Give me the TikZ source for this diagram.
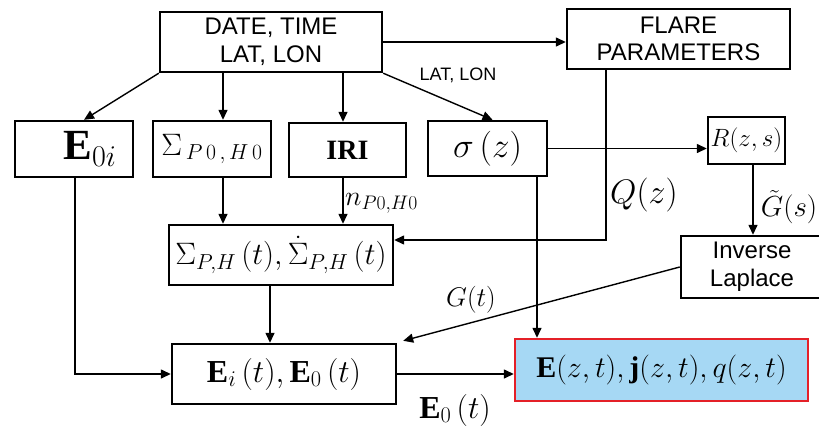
\RequirePackage{fix-cm}
\documentclass[tikz,border=0pt]{standalone}
\usepackage{amsmath}
\usepackage{xcolor}
\usepackage{fontspec}
\setmainfont{Liberation Serif}
\newfontfamily\arialfont{Liberation Sans}
\usetikzlibrary{positioning, arrows.meta}

\definecolor{outblue}{RGB}{166,216,244}
\definecolor{outred}{RGB}{228,32,40}

\newcommand{\fs}[2][1.15]{\fontsize{#2}{#1\dimexpr#2pt\relax}\selectfont}

\tikzset{
    block/.style 2 args={draw, line width=2.4pt, inner sep=0pt,
        minimum width=#1, minimum height=#2, align=center},
    flow/.style={-{Triangle[length=10pt,width=9pt]}, line width=1.4pt},
    lbl/.style={inner sep=0pt}
}

\begin{document}
\begin{tikzpicture}[x=1pt, y=-1pt]
    \useasboundingbox (0,0) rectangle (819,431);

    % boxes
    \node[block={222pt}{60pt}, font=\arialfont\fs{24}] (date) at (271,42)
        {DATE, TIME\\LAT, LON};
    \node[block={223pt}{60pt}, font=\arialfont\fs{24}] (flare) at (678.5,39)
        {FLARE\\PARAMETERS};
    \node[block={118pt}{56pt}, font=\fs{43}] (e0i) at (74,149) {\hspace*{32pt}$\mathbf{E}_{0i}$};
    \node[block={118pt}{56pt}, font=\fs{31}] (sig0) at (212,149) {$\Sigma_{\,P\,0\,,\,H\,0}$};
    \node[block={117pt}{54pt}, font=\fs{28}\bfseries] (iri) at (347.5,150) {IRI};
    \node[block={119pt}{55pt}, font=\fs{35}] (sigz) at (487.5,148.5) {$\sigma\,(z)$};
    \node[block={77pt}{47pt}, font=\fs{25}] (rzs) at (746.5,140.5) {$R(z,s)$};
    \node[block={142pt}{62pt}, font=\arialfont\fs{24}] (invl) at (752,267)
        {Inverse\\Laplace};
    \node[block={224pt}{60pt}, font=\fs{31}] (sigph) at (281,255)
        {$\Sigma_{P,H}\,(t),\dot{\Sigma}_{P,H}\,(t)$};
    \node[block={224pt}{60pt}, font=\fs{32}] (eit) at (284,374)
        {$\mathbf{E}_i\,(t),\mathbf{E}_0\,(t)$};
    \node[block={293pt}{62pt}, draw=outred, fill=outblue, font=\fs{30}] (out) at (661.5,370)
        {$\mathbf{E}(z,t),\mathbf{j}(z,t),q(z,t)$};

    % connectors
    \draw[flow] (date.south west) -- ([xshift=10pt]e0i.north);
    \draw[flow] ([xshift=11pt]sig0.north |- date.south) -- ([xshift=11pt]sig0.north);
    \draw[flow] ([xshift=-4.5pt]iri.north |- date.south) -- ([xshift=-4.5pt]iri.north);
    \draw[flow] (date.south east) -- ([xshift=5pt]sigz.north);
    \draw[flow] (date.east) -- (date.east -| flare.west);
    \draw[flow] ([xshift=1pt]e0i.south) |- (eit.west);
    \draw[flow] ([xshift=11pt]sig0.south) -- ([xshift=11pt]sig0.south |- sigph.north);
    \draw[flow] ([xshift=-4.5pt]iri.south) -- ([xshift=-4.5pt]iri.south |- sigph.north);
    \draw[flow] ([xshift=-72.5pt]flare.south) |- ([yshift=15pt]sigph.east);
    \draw[flow] ([xshift=49.5pt]sigz.south) -- ([xshift=49.5pt]sigz.south |- out.north);
    \draw[flow] (sigz.east) -- (sigz.east -| rzs.west);
    \draw[flow] ([xshift=6.5pt]rzs.south) -- ([xshift=6.5pt]rzs.south |- invl.north);
    \draw[flow] (invl.west) -- ([xshift=6pt,yshift=2pt]eit.north east);
    \draw[flow] (eit.east) -- (eit.east -| out.west);
    \draw[flow] ([xshift=-11pt]sigph.south) -- ([xshift=-11pt]sigph.south |- eit.north);

    % labels
    \node[lbl, font=\arialfont\fs{18}] (latlon) at (458,75) {LAT, LON};
    \node[lbl, anchor=west, font=\fs{28}] (nlbl) at (345,203) {$n_{P0,H0}$};
    \node[lbl, anchor=west, font=\fs{34}] (qlbl) at (610,195) {$Q(z)$};
    \node[lbl, font=\fs{29}] (gslbl) at (789,207) {$\tilde{G}(s)$};
    \node[lbl, font=\fs{27}] (gtlbl) at (471,300) {$G(t)$};
    \node[lbl, font=\fs{32}] (e0lbl) at (455,410) {$\mathbf{E}_0\,(t)$};
\end{tikzpicture}
\end{document}
